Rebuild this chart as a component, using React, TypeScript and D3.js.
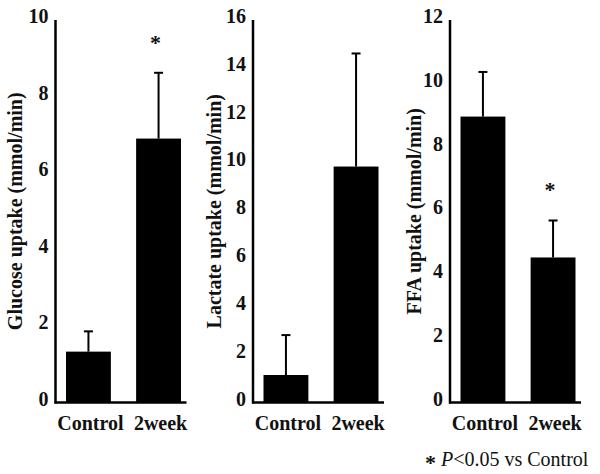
import React from "react";
import * as d3 from "d3";

const categories = ["Control", "2week"];

const glucoseMean = [1.33, 6.9];
const glucoseSD = [0.53, 1.72];
const glucoseTicks = [0, 2, 4, 6, 8, 10];
const glucoseSig = [false, true];

const lactateMean = [1.15, 9.87];
const lactateSD = [1.67, 4.73];
const lactateTicks = [0, 2, 4, 6, 8, 10, 12, 14, 16];
const lactateSig = [false, false];

const ffaMean = [8.97, 4.55];
const ffaSD = [1.4, 1.16];
const ffaTicks = [0, 2, 4, 6, 8, 10, 12];
const ffaSig = [false, true];

const titles = [
  "Glucose uptake (mmol/min)",
  "Lactate uptake (mmol/min)",
  "FFA uptake (mmol/min)",
];
const footnote = "<0.05 vs Control";

const FONT = "'Liberation Serif', 'Times New Roman', serif";

const panels = [
  { title: titles[0], mean: glucoseMean, sd: glucoseSD, ticks: glucoseTicks, sig: glucoseSig, axisX: 55.5, titleX: 22 },
  { title: titles[1], mean: lactateMean, sd: lactateSD, ticks: lactateTicks, sig: lactateSig, axisX: 253, titleX: 221 },
  { title: titles[2], mean: ffaMean, sd: ffaSD, ticks: ffaTicks, sig: ffaSig, axisX: 450, titleX: 421 },
];

function Panel({ p }: { p: typeof panels[number] }) {
  const top = 20;
  const bottom = 402.5;
  const max = p.ticks[p.ticks.length - 1];
  const y = d3.scaleLinear().domain([0, max]).range([bottom, top]);
  const x = d3
    .scaleBand<string>()
    .domain(categories)
    .range([p.axisX + 10.5, p.axisX + 125.5])
    .paddingInner(0.36)
    .paddingOuter(0);
  const bw = x.bandwidth();
  const cap = 4.5;
  return (
    <g>
      {categories.map((c, i) => {
        const x0 = x(c) as number;
        const cx = x0 + bw / 2;
        const errTop = y(p.mean[i] + p.sd[i]);
        return (
          <g key={c}>
            <line x1={cx} x2={cx} y1={y(p.mean[i])} y2={errTop} stroke="#000" strokeWidth={2} />
            <line x1={cx - cap} x2={cx + cap} y1={errTop} y2={errTop} stroke="#000" strokeWidth={2} />
            <rect x={x0} y={y(p.mean[i])} width={bw} height={bottom - y(p.mean[i])} fill="#000" />
            {p.sig[i] && (
              <text x={cx - 3} y={errTop - 23} textAnchor="middle" fontFamily={FONT} fontWeight="bold" fontSize={22} fill="#111">
                *
              </text>
            )}
            <text x={cx + 2} y={430} textAnchor="middle" fontFamily={FONT} fontWeight="bold" fontSize={20} fill="#111">
              {c}
            </text>
          </g>
        );
      })}
      <line x1={p.axisX} x2={p.axisX} y1={top} y2={bottom + 1} stroke="#000" strokeWidth={2.5} />
      <line x1={p.axisX - 1} x2={p.axisX + 131} y1={bottom} y2={bottom} stroke="#000" strokeWidth={2.5} />
      {p.ticks.map((t) => (
        <text
          key={t}
          x={p.axisX - 7}
          y={y(t) + 3}
          textAnchor="end"
          fontFamily={FONT}
          fontWeight="bold"
          fontSize={20}
          fill="#111"
        >
          {t}
        </text>
      ))}
      <text
        transform={`translate(${p.titleX},${(top + bottom) / 2}) rotate(-90)`}
        textAnchor="middle"
        fontFamily={FONT}
        fontWeight="bold"
        fontSize={20}
        fill="#111"
      >
        {p.title}
      </text>
    </g>
  );
}

export default function App() {
  return (
    <svg
      width={600}
      height={474}
      style={{ position: "absolute", left: 0, top: 0, background: "#fff" }}
    >
      <rect width={600} height={474} fill="#fff" />
      {panels.map((p) => (
        <Panel key={p.title} p={p} />
      ))}
      <text x={425} y={470} fontFamily={FONT} fontWeight="bold" fontSize={22} fill="#111">
        *
      </text>
      <text x={441} y={466} fontFamily={FONT} fontSize={20} fill="#111">
        <tspan fontStyle="italic">P</tspan>
        <tspan>{footnote}</tspan>
      </text>
    </svg>
  );
}
